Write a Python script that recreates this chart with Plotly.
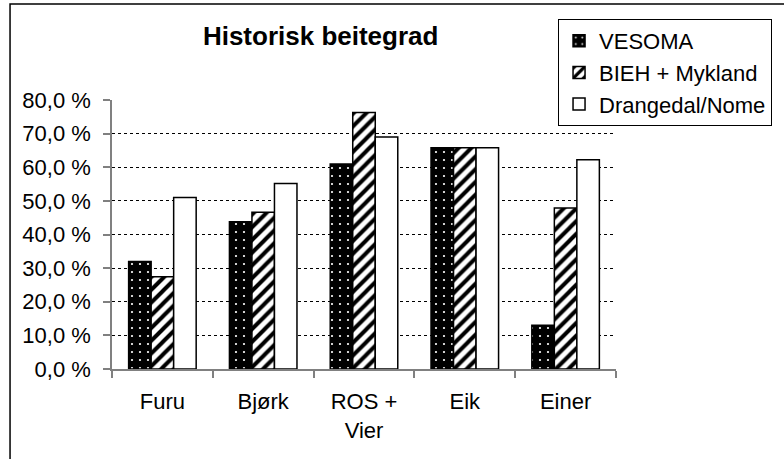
import plotly.graph_objects as go

categories = ["Furu", "Bjørk", "ROS +<br>Vier", "Eik", "Einer"]
vesoma = [32.0, 43.8, 61.0, 65.8, 13.0]
bieh_mykland = [27.4, 46.6, 76.3, 65.8, 47.9]
drangedal_nome = [51.0, 55.2, 69.0, 65.8, 62.2]
series_names = ["VESOMA", "BIEH + Mykland", "Drangedal/Nome"]
y_tick_vals = [0, 10, 20, 30, 40, 50, 60, 70, 80]
y_tick_text = ["0,0 %", "10,0 %", "20,0 %", "30,0 %", "40,0 %", "50,0 %", "60,0 %", "70,0 %", "80,0 %"]
grid_vals = [10, 20, 30, 40, 50, 60, 70]

FONT = "Liberation Sans, Arial, sans-serif"

fig = go.Figure()
fig.add_trace(go.Bar(
    x=categories, y=vesoma, name=series_names[0],
    marker=dict(color="black", line=dict(color="black", width=1.5),
                pattern=dict(shape=".", bgcolor="black", fgcolor="white",
                             size=8, solidity=0.06, fillmode="replace")),
))
fig.add_trace(go.Bar(
    x=categories, y=bieh_mykland, name=series_names[1],
    marker=dict(color="white", line=dict(color="black", width=1.5),
                pattern=dict(shape="/", bgcolor="white", fgcolor="black",
                             size=9, solidity=0.45, fillmode="replace")),
))
fig.add_trace(go.Bar(
    x=categories, y=drangedal_nome, name=series_names[2],
    marker=dict(color="white", line=dict(color="black", width=1.5)),
))
# invisible trace on overlay axis to carry the dotted grid
fig.add_trace(go.Scatter(x=categories, y=vesoma, yaxis="y2", mode="none",
                         showlegend=False, hoverinfo="skip"))

fig.update_layout(
    width=784, height=459,
    margin=dict(l=112, r=158, t=100, b=90),
    paper_bgcolor="white", plot_bgcolor="white",
    font=dict(family=FONT, size=22, color="black"),
    barmode="group", bargap=0.33, bargroupgap=0,
    title=dict(text="<b>Historisk beitegrad</b>", x=0.414, xref="paper",
               xanchor="center", y=0.921, yanchor="middle", yref="container",
               font=dict(family=FONT, size=26, color="black")),
    legend=dict(x=0.885, y=1.301, xanchor="left", yanchor="top",
                bordercolor="black", borderwidth=1, bgcolor="white",
                font=dict(family=FONT, size=22, color="black"),
                itemwidth=30, tracegroupgap=0),
    xaxis=dict(showline=True, linecolor="#808080", linewidth=1.5,
               ticks="outside", tickson="boundaries", ticklen=7,
               tickcolor="#808080", tickwidth=1.5, showgrid=False,
               ticklabelstandoff=12,
               tickfont=dict(family=FONT, size=22)),
    yaxis=dict(range=[0, 80], tickvals=y_tick_vals, ticktext=y_tick_text,
               showline=True, linecolor="#808080", linewidth=1.5,
               ticks="outside", ticklen=7, tickcolor="#808080", tickwidth=1.5,
               showgrid=False, zeroline=False, ticklabelstandoff=8,
               tickfont=dict(family=FONT, size=22)),
    yaxis2=dict(overlaying="y", matches="y", tickvals=grid_vals,
                showticklabels=False, showgrid=True, griddash="dot",
                gridcolor="black", gridwidth=1, zeroline=False,
                showline=False, ticks=""),
    shapes=[dict(type="rect", xref="paper", yref="paper",
                 x0=-0.2023, x1=1.34, y0=-0.38, y1=1.357,
                 line=dict(color="black", width=1.5), fillcolor="rgba(0,0,0,0)",
                 layer="above")],
)

fig.write_html("out.html", config={"displayModeBar": False},
               post_script="document.body.style.margin='0';document.body.style.overflow='hidden';")
